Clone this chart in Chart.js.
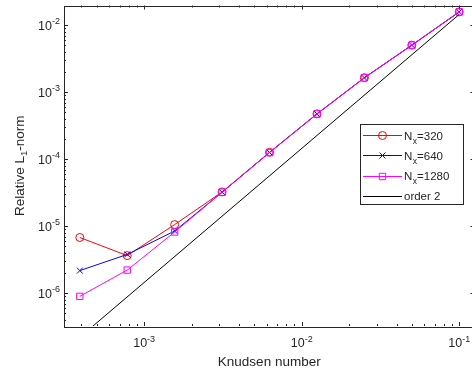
<!DOCTYPE html>
<html>
<head>
<meta charset="utf-8">
<script src="https://cdn.jsdelivr.net/npm/chart.js@4"></script>
<style>
  html, body { margin: 0; padding: 0; background: #fff; overflow: hidden; }
  #wrap { width: 480px; height: 374px; }
</style>
</head>
<body>
<div id="wrap"><canvas id="chart" width="480" height="374"></canvas></div>
<script>
// Knudsen numbers and relative L1 errors for each grid size
const knudsen = [3.90625e-4, 7.8125e-4, 1.5625e-3, 3.125e-3, 6.25e-3, 1.25e-2, 2.5e-2, 5e-2, 1e-1];
const errNx320 = [6.8e-6, 3.65e-6, 1.06e-5, 3.25e-5, 1.27e-4, 4.76e-4, 1.65e-3, 5.05e-3, 1.58e-2];
const errNx640 = [2.18e-6, 3.8e-6, 8.5e-6, 3.22e-5, 1.26e-4, 4.74e-4, 1.64e-3, 5.04e-3, 1.58e-2];
const errNx1280 = [9.0e-7, 2.22e-6, 8.2e-6, 3.22e-5, 1.26e-4, 4.74e-4, 1.64e-3, 5.04e-3, 1.58e-2];

// reference slope line (two end points)
const orderKn = [3.90625e-4, 1e-1];
const order2 = [2.21e-7, 1.45e-2];

const gridLabels = ['320', '640', '1280'];
const xTickExps = [-3, -2, -1];
const yTickExps = [-6, -5, -4, -3, -2];

const INK = '#262626';
const FONT = '"Liberation Sans", Arial, Helvetica, sans-serif';

const pairs = (xs, ys) => xs.map((x, i) => ({ x: x, y: ys[i] }));

function drawPower(ctx, exp, x, y, align) {
  const base = '10';
  const sup = String(exp);
  ctx.font = '12.5px ' + FONT;
  const wb = ctx.measureText(base).width;
  ctx.font = '9px ' + FONT;
  const ws = ctx.measureText(sup).width;
  const x0 = align === 'center' ? x - (wb + ws) / 2 : x - (wb + ws);
  ctx.textAlign = 'left';
  ctx.textBaseline = 'alphabetic';
  ctx.font = '12.5px ' + FONT;
  ctx.fillText(base, x0, y);
  ctx.font = '9px ' + FONT;
  ctx.fillText(sup, x0 + wb, y - 5.5);
}

function drawMarker(ctx, style, x, y, color) {
  ctx.strokeStyle = color;
  ctx.lineWidth = 1;
  ctx.beginPath();
  if (style === 'circle') {
    ctx.arc(x, y, 4, 0, Math.PI * 2);
  } else if (style === 'crossRot') {
    ctx.moveTo(x - 3, y - 3); ctx.lineTo(x + 3, y + 3);
    ctx.moveTo(x - 3, y + 3); ctx.lineTo(x + 3, y - 3);
  } else if (style === 'rect') {
    ctx.rect(x - 3.2, y - 3.2, 6.4, 6.4);
  }
  ctx.stroke();
}

const axesPlugin = {
  id: 'matlabAxes',
  afterDraw(chart) {
    const ctx = chart.ctx;
    const a = chart.chartArea;
    const xs = chart.scales.x;
    const ys = chart.scales.y;
    ctx.save();
    ctx.strokeStyle = INK;
    ctx.fillStyle = INK;
    ctx.lineWidth = 1;

    // box
    ctx.strokeRect(Math.round(a.left) + 0.5, Math.round(a.top) + 0.5,
      Math.round(a.right - a.left), Math.round(a.bottom - a.top));

    // ticks
    ctx.beginPath();
    for (let k = -4; k <= 0; k++) {
      for (let m = 1; m <= 9; m++) {
        const v = m * Math.pow(10, k);
        if (v < xs.min || v > xs.max) continue;
        const px = Math.round(xs.getPixelForValue(v)) + 0.5;
        const len = m === 1 ? 4 : 2;
        ctx.moveTo(px, a.bottom); ctx.lineTo(px, a.bottom - len);
        ctx.moveTo(px, a.top); ctx.lineTo(px, a.top + len);
      }
    }
    for (let k = -7; k <= -1; k++) {
      for (let m = 1; m <= 9; m++) {
        const v = m * Math.pow(10, k);
        if (v < ys.min || v > ys.max) continue;
        const py = Math.round(ys.getPixelForValue(v)) + 0.5;
        const len = m === 1 ? 4 : 2;
        ctx.moveTo(a.left, py); ctx.lineTo(a.left + len, py);
        ctx.moveTo(a.right, py); ctx.lineTo(a.right - len, py);
      }
    }
    ctx.stroke();

    // tick labels
    xTickExps.forEach(e => {
      drawPower(ctx, e, xs.getPixelForValue(Math.pow(10, e)), a.bottom + 21, 'center');
    });
    yTickExps.forEach(e => {
      drawPower(ctx, e, a.left - 4, ys.getPixelForValue(Math.pow(10, e)) + 4.5, 'right');
    });

    // x label
    ctx.font = '13.5px ' + FONT;
    ctx.textAlign = 'center';
    ctx.fillText('Knudsen number', (a.left + a.right) / 2, a.bottom + 39.5);

    // y label with subscript
    ctx.save();
    ctx.translate(23.5, (a.top + a.bottom) / 2);
    ctx.rotate(-Math.PI / 2);
    ctx.textAlign = 'left';
    ctx.font = '13.5px ' + FONT;
    const p1 = 'Relative L', p3 = '-norm';
    const w1 = ctx.measureText(p1).width;
    const w3 = ctx.measureText(p3).width;
    ctx.font = '9.5px ' + FONT;
    const w2 = ctx.measureText('1').width;
    let tx = -(w1 + w2 + w3) / 2;
    ctx.font = '13.5px ' + FONT;
    ctx.fillText(p1, tx, 0);
    ctx.font = '9.5px ' + FONT;
    ctx.fillText('1', tx + w1, 3.5);
    ctx.font = '13.5px ' + FONT;
    ctx.fillText(p3, tx + w1 + w2, 0);
    ctx.restore();

    // legend
    const lx = 360.5, ly = 124.5, lw = 103, lh = 80;
    ctx.fillStyle = '#fff';
    ctx.fillRect(lx, ly, lw, lh);
    ctx.strokeStyle = INK;
    ctx.strokeRect(lx, ly, lw, lh);
    const entries = [
      { color: '#ff0000', marker: 'circle', n: gridLabels[0] },
      { color: '#0000ff', marker: 'crossRot', n: gridLabels[1] },
      { color: '#ff00ff', marker: 'rect', n: gridLabels[2] },
      { color: '#000000', marker: null, text: 'order 2' }
    ];
    entries.forEach((en, i) => {
      const ry = 135 + i * 20.3;
      ctx.strokeStyle = en.color;
      ctx.lineWidth = 1;
      ctx.beginPath();
      ctx.moveTo(363, Math.round(ry) + 0.5);
      ctx.lineTo(402, Math.round(ry) + 0.5);
      ctx.stroke();
      if (en.marker) drawMarker(ctx, en.marker, 382.5, Math.round(ry) + 0.5, en.color);
      ctx.fillStyle = INK;
      ctx.textAlign = 'left';
      if (en.text) {
        ctx.font = '11.5px ' + FONT;
        ctx.fillText(en.text, 404, ry + 4.5);
      } else {
        ctx.font = '11.5px ' + FONT;
        ctx.fillText('N', 404, ry + 4.5);
        const wn = ctx.measureText('N').width;
        ctx.font = '8.5px ' + FONT;
        ctx.fillText('x', 404 + wn + 0.5, ry + 8.5);
        const wx = ctx.measureText('x').width;
        ctx.font = '11.5px ' + FONT;
        ctx.fillText('=' + en.n, 404 + wn + wx + 0.5, ry + 4.5);
      }
    });
    ctx.restore();
  }
};

const series = (label, ys, color, marker, r) => ({
  label: label,
  data: pairs(knudsen, ys),
  borderColor: color,
  borderWidth: 1,
  backgroundColor: 'rgba(0,0,0,0)',
  pointStyle: marker,
  pointRadius: r,
  pointBorderColor: color,
  pointBackgroundColor: 'rgba(0,0,0,0)',
  pointBorderWidth: 1,
  fill: false
});

new Chart(document.getElementById('chart'), {
  type: 'line',
  data: {
    // first dataset is drawn last (on top)
    datasets: [
      {
        label: 'order 2',
        data: pairs(orderKn, order2),
        borderColor: '#000000',
        borderWidth: 1,
        pointRadius: 0,
        fill: false,
        clip: 0
      },
      series('N_x=1280', errNx1280, '#ff00ff', 'rect', 4.5),
      series('N_x=640', errNx640, '#0000ff', 'crossRot', 4.2),
      series('N_x=320', errNx320, '#ff0000', 'circle', 4)
    ]
  },
  options: {
    responsive: false,
    animation: false,
    events: [],
    layout: { padding: { left: 64, top: 2, right: 2, bottom: 48 } },
    plugins: { legend: { display: false }, tooltip: { enabled: false } },
    scales: {
      x: { type: 'logarithmic', display: false, bounds: 'data', min: 3.1e-4, max: 0.125 },
      y: { type: 'logarithmic', display: false, bounds: 'data', min: 3.25e-7, max: 1.97e-2 }
    }
  },
  plugins: [axesPlugin]
});
</script>
</body>
</html>
